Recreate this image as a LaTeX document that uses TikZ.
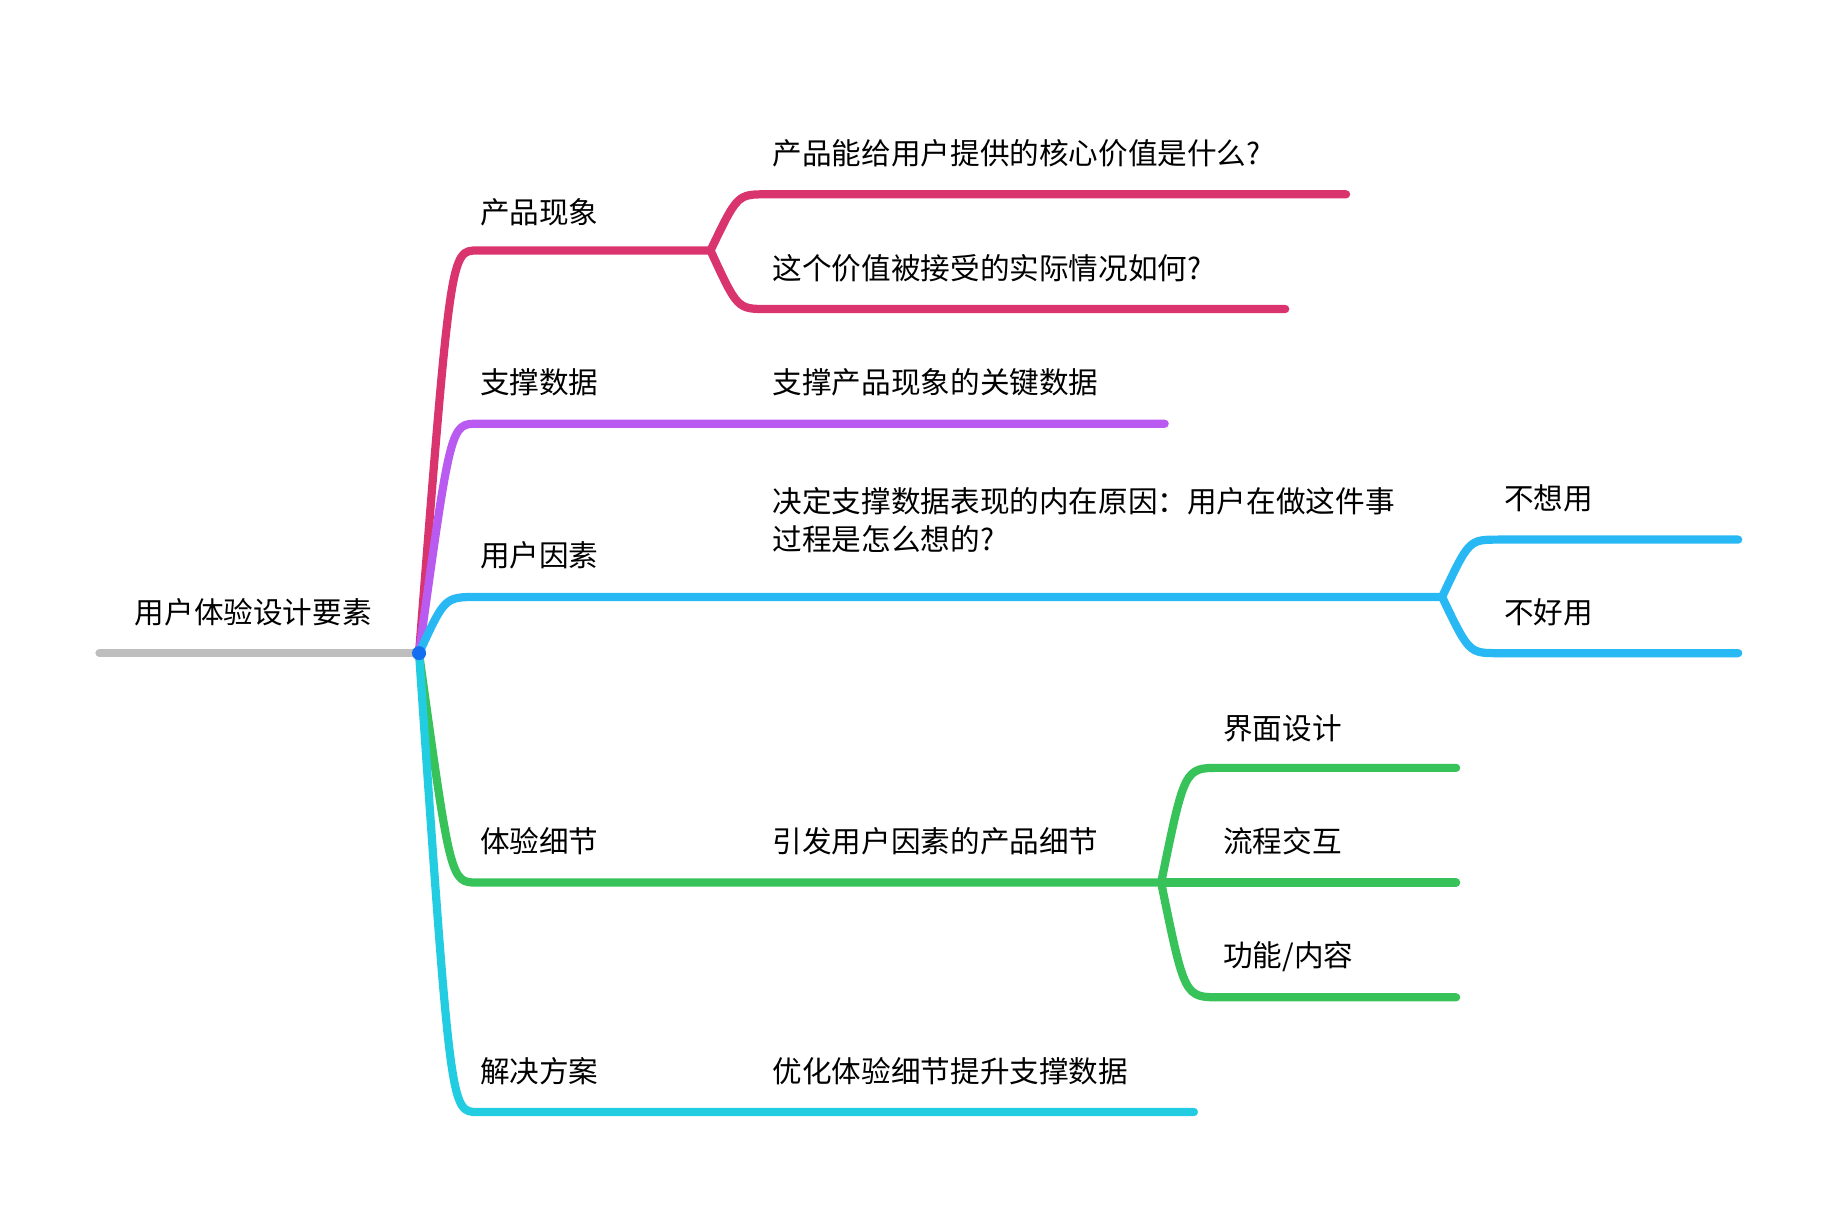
\documentclass[tikz,border=0pt]{standalone}
\usepackage{fontspec}
\newfontfamily\cjk{Noto Sans CJK SC}
\definecolor{cRed}{RGB}{218,52,110}
\definecolor{cPur}{RGB}{185,90,240}
\definecolor{cBlu}{RGB}{40,185,245}
\definecolor{cGrn}{RGB}{55,195,90}
\definecolor{cCya}{RGB}{35,205,225}
\definecolor{cGry}{RGB}{190,190,190}
\definecolor{cDot}{RGB}{20,110,240}
\begin{document}
\begin{tikzpicture}[x=0.05cm,y=-0.05cm,
  lbl/.style={anchor=west,inner sep=0pt,font=\cjk\fontsize{36}{46}\selectfont},
  br/.style={line width=10pt,line cap=round}]
\useasboundingbox (0,0) rectangle (1560,1030);
\coordinate (root) at (358,558);
\coordinate (rs) at (85,558);
\coordinate (r0) at (408,214); \coordinate (r1) at (607,214);
\coordinate (r2) at (655,166); \coordinate (r3) at (1150,166);
\coordinate (r4) at (655,264); \coordinate (r5) at (1098,264);
\coordinate (p0) at (408,362); \coordinate (p1) at (995,362);
\coordinate (b0) at (408,510); \coordinate (b1) at (1232,510);
\coordinate (b2) at (1280,461); \coordinate (b3) at (1485,461);
\coordinate (b4) at (1280,558); \coordinate (b5) at (1485,558);
\coordinate (g0) at (408,754); \coordinate (g1) at (992,754);
\coordinate (g2) at (1042,656); \coordinate (g3) at (1244,656);
\coordinate (g4) at (1042,754); \coordinate (g5) at (1244,754);
\coordinate (g6) at (1042,852); \coordinate (g7) at (1244,852);
\coordinate (c0) at (408,950); \coordinate (c1) at (1020,950);

\draw[br,cGry] (rs) -- (root);
\draw[br,cRed] (root) .. controls (385,214) .. (r0) -- (r1);
\draw[br,cRed] (r1) .. controls (630,166) .. (r2) -- (r3);
\draw[br,cRed] (r1) .. controls (630,264) .. (r4) -- (r5);
\draw[br,cPur] (root) .. controls (385,362) .. (p0) -- (p1);
\draw[br,cBlu] (root) .. controls (380,510) .. (b0) -- (b1);
\draw[br,cBlu] (b1) .. controls (1255,461) .. (b2) -- (b3);
\draw[br,cBlu] (b1) .. controls (1255,558) .. (b4) -- (b5);
\draw[br,cGrn] (root) .. controls (385,754) .. (g0) -- (g1);
\draw[br,cGrn] (g1) .. controls (1012,656) .. (g2) -- (g3);
\draw[br,cGrn] (g1) -- (g5);
\draw[br,cGrn] (g1) .. controls (1012,852) .. (g6) -- (g7);
\draw[br,cCya] (root) .. controls (385,950) .. (c0) -- (c1);
\fill[cDot] (root) circle (6);

\node[lbl] (t0) at (115,523) {用户体验设计要素};
\node[lbl] (t1) at (410,181) {产品现象};
\node[lbl] (t2) at (660,131) {产品能给用户提供的核心价值是什么?};
\node[lbl] (t3) at (660,229) {这个价值被接受的实际情况如何?};
\node[lbl] (t4) at (410,327) {支撑数据};
\node[lbl] (t5) at (660,327) {支撑产品现象的关键数据};
\node[lbl] (t6) at (410,474) {用户因素};
\node[lbl] (t7) at (660,428) {决定支撑数据表现的内在原因：用户在做这件事};
\node[lbl] (t8) at (660,461) {过程是怎么想的?};
\node[lbl] (t9) at (1285,426) {不想用};
\node[lbl] (t10) at (1285,523) {不好用};
\node[lbl] (t11) at (1045,622) {界面设计};
\node[lbl] (t12) at (1045,719) {流程交互};
\node[lbl] (t13) at (1045,817) {功能/内容};
\node[lbl] (t14) at (410,719) {体验细节};
\node[lbl] (t15) at (660,719) {引发用户因素的产品细节};
\node[lbl] (t16) at (410,915) {解决方案};
\node[lbl] (t17) at (660,915) {优化体验细节提升支撑数据};
\end{tikzpicture}
\end{document}
